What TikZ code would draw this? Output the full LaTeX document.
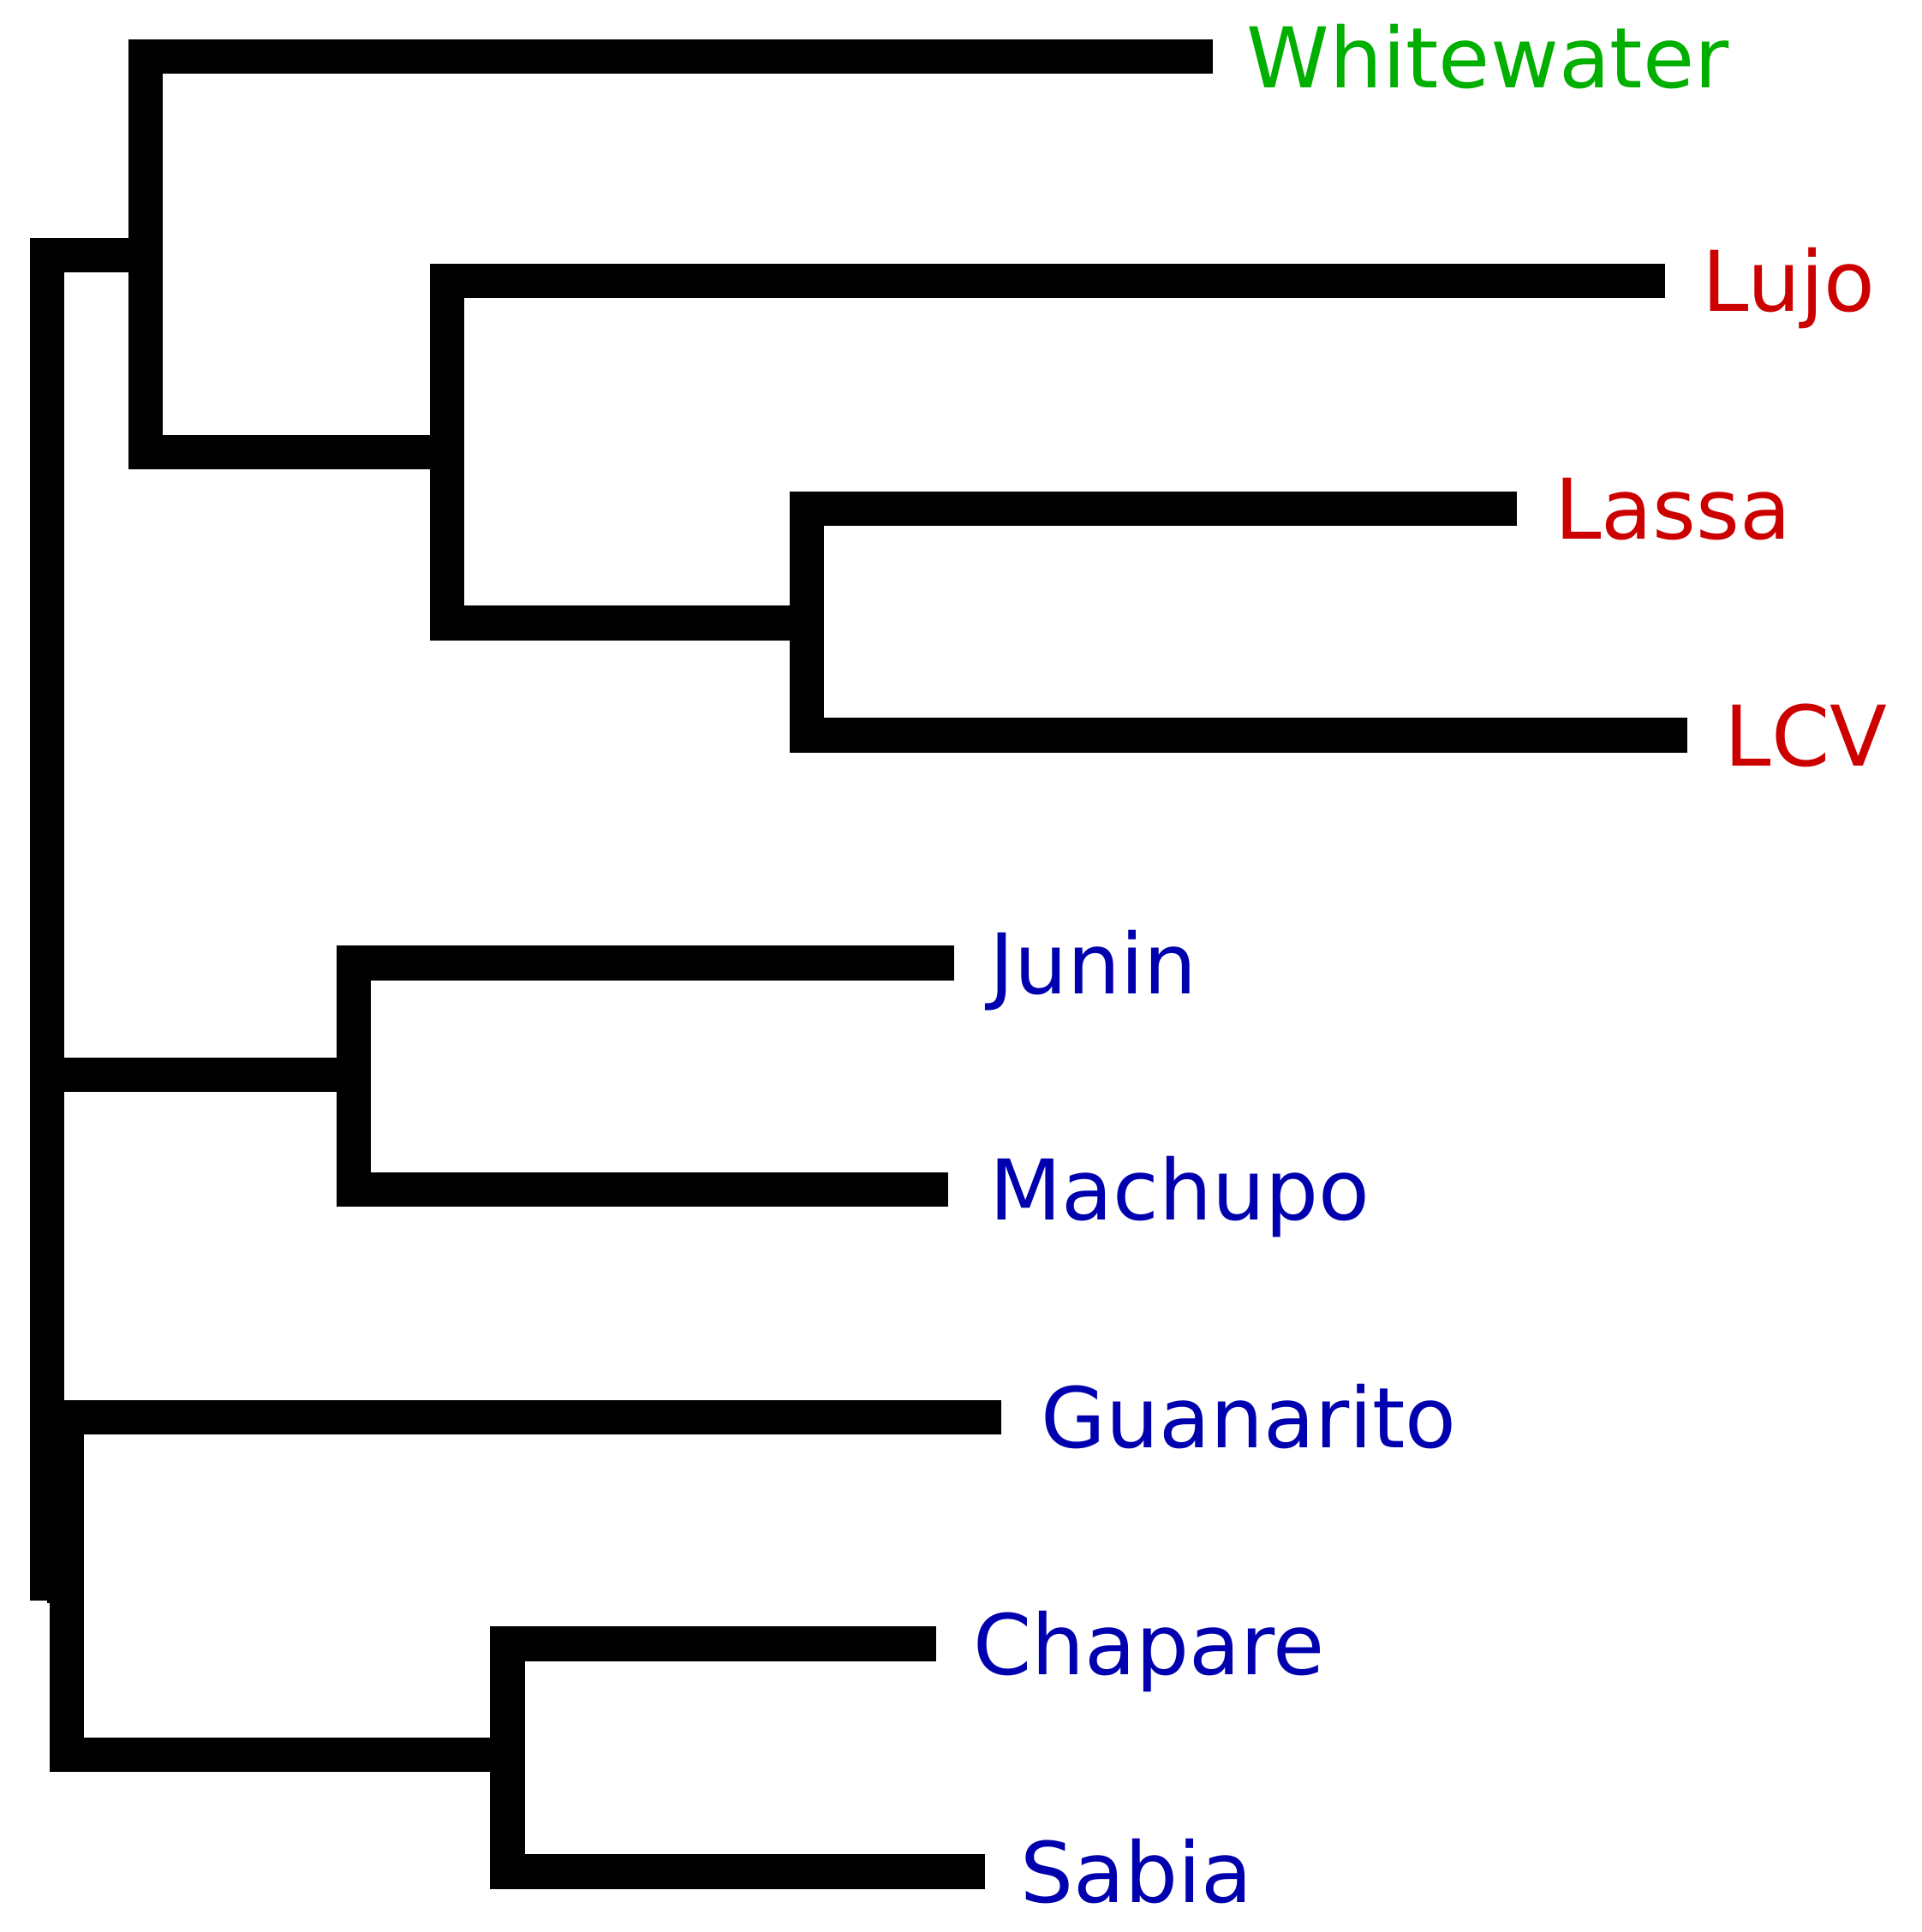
\documentclass[tikz,border=0pt]{standalone}
\usepackage{fontspec}
\setmainfont{DejaVu Sans}
\definecolor{gr}{RGB}{0,175,0}
\definecolor{rd}{RGB}{205,0,0}
\definecolor{bl}{RGB}{0,0,175}
\begin{document}
\begin{tikzpicture}[x=0.5pt,y=-0.5pt,br/.style={line width=14pt,line join=miter},
lab/.style={anchor=base west,font=\fontsize{34}{40}\selectfont,inner sep=0pt}]
\useasboundingbox (0,0) rectangle (1560,1569);
% tips
\coordinate (w) at (985,46);
\coordinate (lu) at (1352,228);
\coordinate (la) at (1232,413);
\coordinate (lc) at (1370,597);
\coordinate (ju) at (775,782);
\coordinate (ma) at (770,966);
\coordinate (gu) at (813,1151);
\coordinate (ch) at (760,1335);
\coordinate (sa) at (800,1520);
% inner nodes
\coordinate (n1) at (118,207);
\coordinate (n2) at (363,367);
\coordinate (n3) at (655,506);
\coordinate (n4) at (287,873);
\coordinate (n5) at (54,1288);
\coordinate (n6) at (412,1425);
\draw[br] (w) -- (118,46) -- (118,367) -- (n2);
\draw[br] (lu) -- (363,228) -- (363,506) -- (n3);
\draw[br] (la) -- (655,413) -- (655,597) -- (lc);
\draw[br] (ju) -- (287,782) -- (287,966) -- (ma);
\draw[br] (sa) -- (412,1520) -- (412,1335) -- (ch);
\draw[br] (gu) -- (54,1151) -- (54,1425) -- (n6);
\draw[br] (n1) -- (38,207) -- (38,1300);
\draw[br] (38,873) -- (n4);
\draw[br] (38,1288) -- (n5);
\node[lab,text=gr] (tw) at (1012,71) {Whitewater};
\node[lab,text=rd] (tlu) at (1382,253) {Lujo};
\node[lab,text=rd] (tla) at (1262,438) {Lassa};
\node[lab,text=rd] (tlc) at (1400,622) {LCV};
\node[lab,text=bl] (tju) at (803,807) {Junin};
\node[lab,text=bl] (tma) at (803,991) {Machupo};
\node[lab,text=bl] (tgu) at (845,1176) {Guanarito};
\node[lab,text=bl] (tch) at (790,1360) {Chapare};
\node[lab,text=bl] (tsa) at (828,1545) {Sabia};
\end{tikzpicture}
\end{document}
